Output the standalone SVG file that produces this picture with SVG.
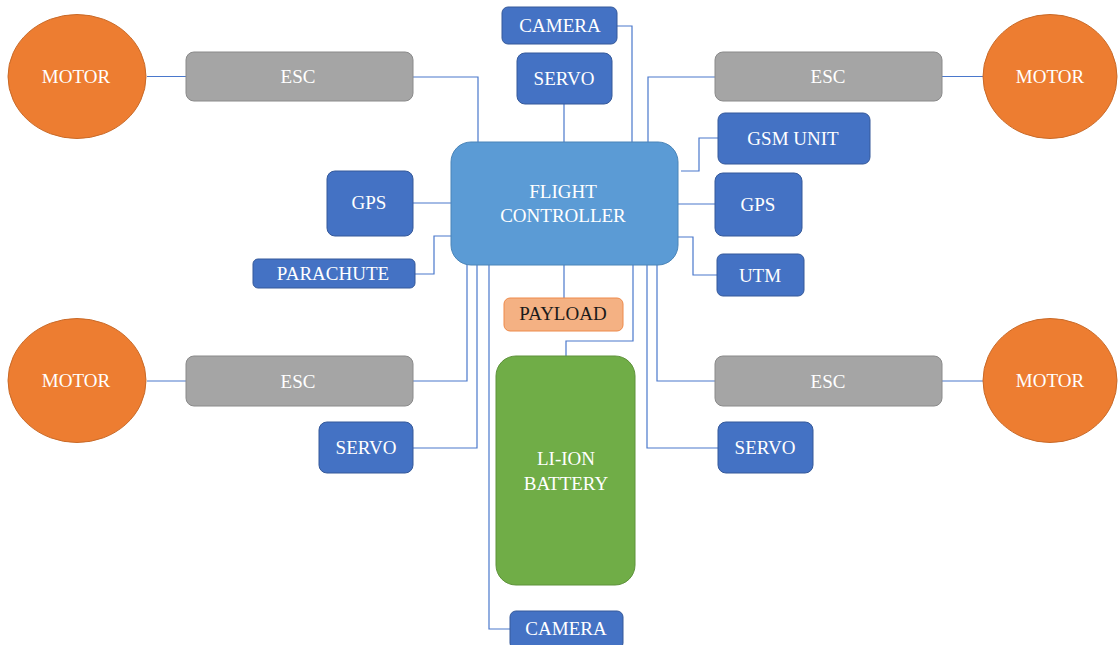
<svg xmlns="http://www.w3.org/2000/svg" width="1118" height="645" viewBox="0 0 1118 645">
<style>
text{font-family:'Liberation Serif','Times New Roman','DejaVu Serif',serif;font-size:19px;fill:#fff;text-anchor:middle}
.motor{fill:#ED7D31;stroke:#C96A28;stroke-width:1}
.esc{fill:#A5A5A5;stroke:#8A8A8A;stroke-width:1}
.blue{fill:#4472C4;stroke:#35599A;stroke-width:1}
.fc{fill:#5B9BD5;stroke:#4A84B8;stroke-width:1}
.pay{fill:#F4B183;stroke:#EE8A4A;stroke-width:1}
.bat{fill:#70AD47;stroke:#5E923B;stroke-width:1}
.dark{fill:#1a1a1a}
#connectors path{fill:none;stroke:#4A78CC;stroke-width:1.2}
</style>
<rect width="1118" height="645" fill="#fff"/>
<g id="connectors">
<path d="M147,76.5H186"/>
<path d="M942,76.5H983"/>
<path d="M147,381H186"/>
<path d="M942,381H983"/>
<path d="M413,77H478V142"/>
<path d="M715,77H648V142"/>
<path d="M617,26H632V142"/>
<path d="M564,104V142"/>
<path d="M681,171H699V138H718"/>
<path d="M678,204H715"/>
<path d="M678,237H693V275H717"/>
<path d="M413,203H451"/>
<path d="M415,274H434V236H451"/>
<path d="M413,381H467V265"/>
<path d="M413,448H477V265"/>
<path d="M510,629H489V265"/>
<path d="M564,265V298"/>
<path d="M566,356V341H633V265"/>
<path d="M715,381H657V265"/>
<path d="M718,448H647V265"/>
</g>
<g id="motor-tl"><ellipse class="motor" cx="77" cy="76.5" rx="69" ry="62"/><text x="76" y="83">MOTOR</text></g>
<g id="motor-tr"><ellipse class="motor" cx="1050" cy="76.5" rx="67" ry="62"/><text x="1050" y="83">MOTOR</text></g>
<g id="motor-bl"><ellipse class="motor" cx="77" cy="380.5" rx="69" ry="62"/><text x="76" y="387">MOTOR</text></g>
<g id="motor-br"><ellipse class="motor" cx="1050" cy="380.5" rx="67" ry="62"/><text x="1050" y="387">MOTOR</text></g>
<g id="esc-tl"><rect class="esc" x="186" y="52" width="227" height="49" rx="8"/><text x="298" y="83">ESC</text></g>
<g id="esc-tr"><rect class="esc" x="715" y="52" width="227" height="49" rx="8"/><text x="828" y="83">ESC</text></g>
<g id="esc-bl"><rect class="esc" x="186" y="356" width="227" height="50" rx="8"/><text x="298" y="388">ESC</text></g>
<g id="esc-br"><rect class="esc" x="715" y="356" width="227" height="50" rx="8"/><text x="828" y="388">ESC</text></g>
<g id="camera-top"><rect class="blue" x="502" y="7" width="115" height="37" rx="6"/><text x="560" y="32">CAMERA</text></g>
<g id="servo-top"><rect class="blue" x="517" y="53" width="95" height="51" rx="8"/><text x="564" y="85">SERVO</text></g>
<g id="flight-controller"><rect class="fc" x="451" y="142" width="227" height="123" rx="20"/><text x="563" y="198">FLIGHT</text><text x="563" y="222">CONTROLLER</text></g>
<g id="gsm"><rect class="blue" x="718" y="113" width="152" height="51" rx="7"/><text x="793" y="145">GSM UNIT</text></g>
<g id="gps-right"><rect class="blue" x="715" y="173" width="87" height="63" rx="8"/><text x="758" y="211">GPS</text></g>
<g id="utm"><rect class="blue" x="717" y="254" width="87" height="42" rx="6"/><text x="760" y="282">UTM</text></g>
<g id="gps-left"><rect class="blue" x="327" y="171" width="86" height="65" rx="8"/><text x="369" y="209">GPS</text></g>
<g id="parachute"><rect class="blue" x="253" y="259" width="162" height="29" rx="5"/><text x="333" y="280">PARACHUTE</text></g>
<g id="payload"><rect class="pay" x="504" y="298" width="119" height="33" rx="6"/><text class="dark" x="563" y="320">PAYLOAD</text></g>
<g id="battery"><rect class="bat" x="496" y="356" width="139" height="229" rx="20"/><text x="566" y="465">LI-ION</text><text x="566" y="490">BATTERY</text></g>
<g id="servo-bl"><rect class="blue" x="319" y="422" width="94" height="51" rx="8"/><text x="366" y="454">SERVO</text></g>
<g id="servo-br"><rect class="blue" x="718" y="422" width="95" height="51" rx="8"/><text x="765" y="454">SERVO</text></g>
<g id="camera-bottom"><rect class="blue" x="510" y="611" width="113" height="38" rx="6"/><text x="566" y="635">CAMERA</text></g>
</svg>
